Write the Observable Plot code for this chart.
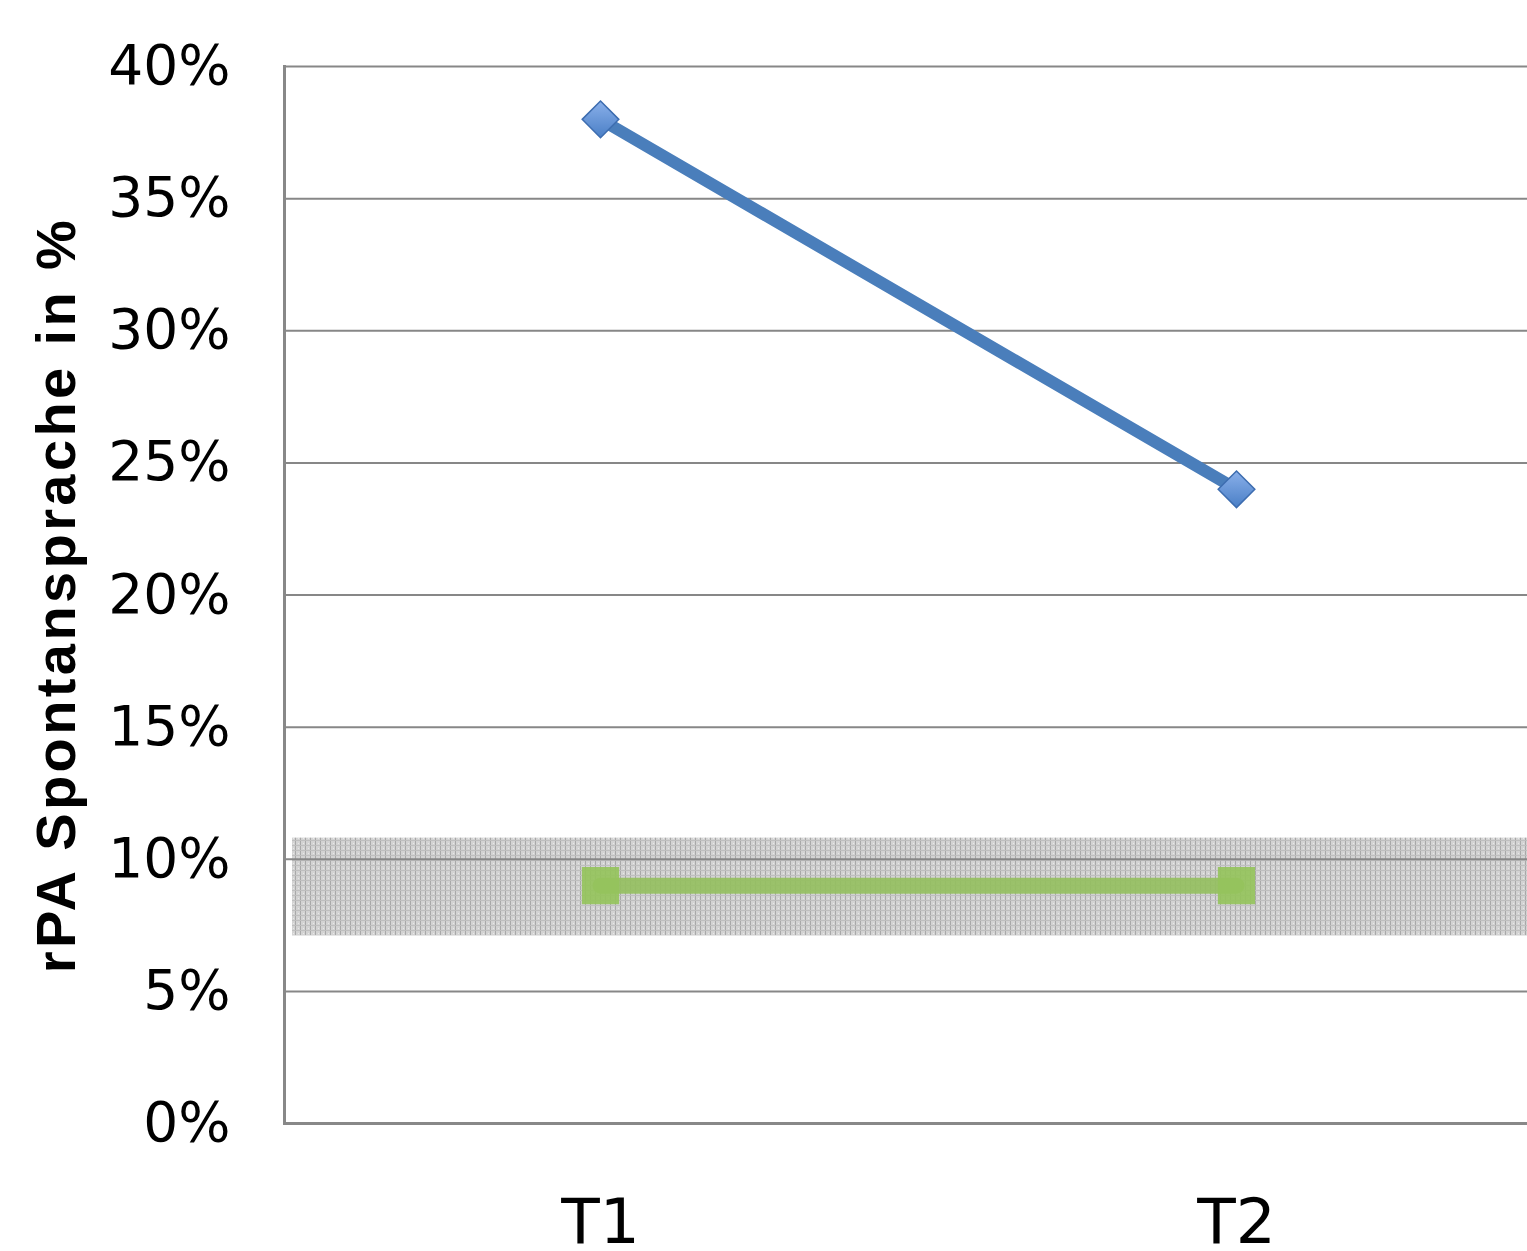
<!DOCTYPE html>
<html>
<head>
<meta charset="utf-8">
<script src="https://cdn.jsdelivr.net/npm/d3@7"></script>
<script src="https://cdn.jsdelivr.net/npm/@observablehq/plot@0.6"></script>
<style>
  html, body { margin: 0; padding: 0; background: #fff; overflow: hidden; }
</style>
</head>
<body>
<div id="chart"></div>
<script>
// ---- data ----
const categories = ["T1", "T2"];
const patientValues = [0.38, 0.24];   // blue series
const controlValues = [0.09, 0.09];   // green series
const normBandLow = 0.071;
const normBandHigh = 0.108;
const yTicks = [0, 0.05, 0.10, 0.15, 0.20, 0.25, 0.30, 0.35, 0.40];
const yTitle = "rPA Spontansprache in %";

const patient = categories.map((c, i) => ({cat: c, v: patientValues[i]}));
const control = categories.map((c, i) => ({cat: c, v: controlValues[i]}));
const band = [{lo: normBandLow, hi: normBandHigh}];

const chart = Plot.plot({
  width: 1527,
  height: 1251,
  marginLeft: 284,
  marginRight: 0,
  marginTop: 66,
  marginBottom: 128,
  style: {fontFamily: "DejaVu Sans", background: "#fff", color: "#000"},
  x: {type: "point", domain: categories, range: [600, 1236], padding: 0},
  y: {domain: [0, 0.40]},
  marks: [
    Plot.rectY(band, {y1: "lo", y2: "hi", fill: "url(#normHatch)", insetLeft: 8}),
    Plot.ruleY(yTicks.filter(d => d > 0), {stroke: "#878787", strokeWidth: 2}),
    Plot.ruleY([0], {stroke: "#888", strokeWidth: 3}),
    Plot.frame({anchor: "left", stroke: "#888", strokeWidth: 3}),
    Plot.axisY({ticks: yTicks, tickFormat: d3.format(".0%"), tickSize: 0, tickPadding: 54, fontSize: 55, label: null}),
    Plot.axisX({tickSize: 0, tickPadding: 75, fontSize: 63, label: null}),
    Plot.text([yTitle], {frameAnchor: "left", textAnchor: "middle", rotate: -90, dx: -227, fontSize: 56, fontWeight: "bold", fontFamily: "Liberation Sans", fill: "#000"}),
    Plot.line(control, {x: "cat", y: "v", stroke: "#93bf5e", strokeWidth: 16, strokeOpacity: 0.9}),
    Plot.dot(control, {x: "cat", y: "v", symbol: "square", r: 21, fill: "#95c35c", fillOpacity: 0.92, stroke: "none"}),
    Plot.line(patient, {x: "cat", y: "v", stroke: "#4a7ebb", strokeWidth: 12}),
    Plot.dot(patient, {x: "cat", y: "v", symbol: "diamond2", r: 16.5, fill: "url(#blueGrad)", stroke: "#3d6db0", strokeWidth: 1.5})
  ]
});

// widen the axis title's letter spacing
d3.select(chart).selectAll('g[aria-label="text"] text').style("letter-spacing", "3.4px");

// pattern and gradient definitions
const defs = d3.select(chart).insert("defs", ":first-child");
const pat = defs.append("pattern").attr("id", "normHatch").attr("patternUnits", "userSpaceOnUse")
  .attr("width", 5).attr("height", 5);
pat.append("rect").attr("width", 5).attr("height", 5).attr("fill", "#d3d3d3");
pat.append("rect").attr("x", 0).attr("width", 1).attr("height", 5).attr("fill", "#a9a9a9");
pat.append("rect").attr("y", 0).attr("width", 5).attr("height", 1).attr("fill", "#bfbfbf");
pat.append("rect").attr("x", 3).attr("y", 3).attr("width", 1).attr("height", 1).attr("fill", "#e8e8e8");
const grad = defs.append("linearGradient").attr("id", "blueGrad").attr("x1", 0).attr("y1", 0).attr("x2", 0).attr("y2", 1);
grad.append("stop").attr("offset", "0%").attr("stop-color", "#8ab0ea");
grad.append("stop").attr("offset", "100%").attr("stop-color", "#4a7fc6");

document.getElementById("chart").appendChild(chart);
</script>
</body>
</html>
